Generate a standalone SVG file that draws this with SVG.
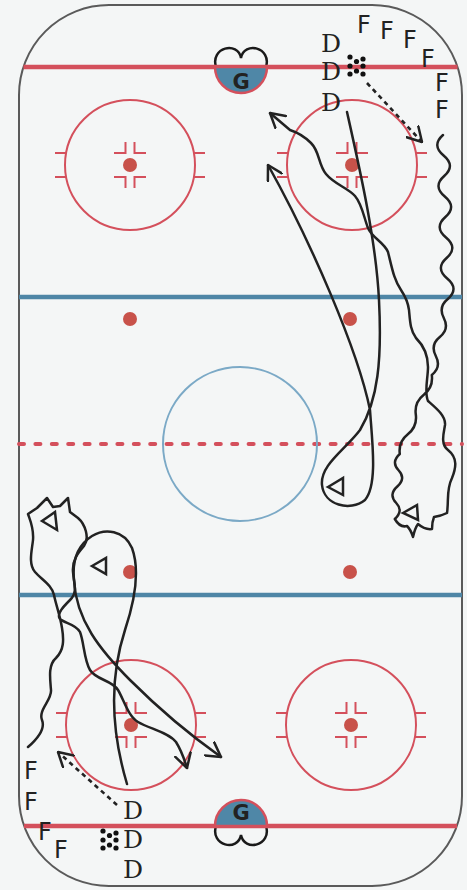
<svg xmlns="http://www.w3.org/2000/svg" xmlns:xlink="http://www.w3.org/1999/xlink" width="467" height="890" viewBox="0 0 467 890">
<style>
.red{stroke:#d4505c;fill:none}
.blue{stroke:#4e86a6;stroke-width:4.5}
.skate{fill:none;stroke:#222;stroke-width:2.5;stroke-linecap:round;stroke-linejoin:round}
.pass{fill:none;stroke:#222;stroke-width:2.6;stroke-dasharray:4.5 4}
.tri{fill:none;stroke:#222;stroke-width:2.5;stroke-linejoin:miter}
.net{fill:none;stroke:#1a1a1a;stroke-width:2.5}
.d{font-family:"DejaVu Serif","Liberation Serif",serif;font-size:25px;fill:#222}
.f{font-family:"DejaVu Sans","Liberation Sans",sans-serif;font-size:24px;fill:#222}
.g{font-family:"DejaVu Sans","Liberation Sans",sans-serif;font-size:21px;font-weight:bold;fill:#222;text-anchor:middle}
.puck{fill:#111}
</style>
<defs>
<marker id="arr" viewBox="0 0 16 18" refX="15" refY="9" markerWidth="16" markerHeight="18" markerUnits="userSpaceOnUse" orient="auto">
<path d="M1,1 L15,9 L1,17" fill="none" stroke="#222" stroke-width="2.5" stroke-linecap="round" stroke-linejoin="round"/>
</marker>
<g id="faceoff">
<circle r="65" fill="none" stroke="#d4505c" stroke-width="2"/>
<path d="M-64,-12 H-75 M-64,12 H-75 M64,-12 H75 M64,12 H75 M-4.5,-23 V-12 H-16 M4.5,-23 V-12 H16 M-4.5,23 V12 H-16 M4.5,23 V12 H16" fill="none" stroke="#d4505c" stroke-width="2"/>
<circle r="7" fill="#c8524a"/>
</g>
<g id="pk">
<circle cx="0" cy="0" r="2.6"/><circle cx="13" cy="2" r="2.6"/><circle cx="6.5" cy="4.5" r="2.6"/>
<circle cx="0" cy="9" r="2.6"/><circle cx="13" cy="9" r="2.6"/>
<circle cx="6.5" cy="14" r="2.6"/><circle cx="0" cy="17" r="2.6"/><circle cx="13" cy="17" r="2.6"/>
</g>
</defs>
<rect width="467" height="890" fill="#f4f6f6"/>
<g id="rink">
<rect x="19" y="5" width="443" height="881" rx="90" ry="90" fill="#f4f6f6" stroke="#5a5a5a" stroke-width="2"/>
<line x1="19" y1="297" x2="462" y2="297" class="blue"/>
<line x1="19" y1="595" x2="462" y2="595" class="blue"/>
<line x1="19" y1="444" x2="462" y2="444" stroke="#d4505c" stroke-width="4" stroke-dasharray="5 11.4" stroke-linecap="round"/>
<circle cx="240" cy="444" r="77" fill="none" stroke="#7ba9c6" stroke-width="2"/>
<circle cx="130" cy="319" r="7" fill="#c8524a"/>
<circle cx="350" cy="319" r="7" fill="#c8524a"/>
<circle cx="130" cy="572" r="7" fill="#c8524a"/>
<circle cx="350" cy="572" r="7" fill="#c8524a"/>
<use xlink:href="#faceoff" x="130" y="165"/>
<use xlink:href="#faceoff" x="352" y="165"/>
<use xlink:href="#faceoff" x="131" y="725"/>
<use xlink:href="#faceoff" x="351" y="725"/>
<path class="net" d="M216,67 C210,47 238,41 241,58 C244,41 272,47 266,67"/>
<path class="net" d="M216,826 C210,846 238,852 241,835 C244,852 272,846 266,826"/>
<line x1="23.5" y1="67" x2="457.5" y2="67" stroke="#d4505c" stroke-width="4.5"/>
<line x1="24" y1="826" x2="457" y2="826" stroke="#d4505c" stroke-width="4.5"/>
<path d="M215,67 A26,26 0 0 0 267,67 Z" fill="#4f87a7" stroke="#d4505c" stroke-width="2.5"/>
<path d="M215,826 A26,26 0 0 1 267,826 Z" fill="#4f87a7" stroke="#d4505c" stroke-width="2.5"/>
</g>
<g id="goalie-top"><text class="g" x="241" y="89">G</text></g>
<g id="goalie-bottom"><text class="g" x="241" y="820">G</text></g>
<g id="pucks" class="puck">
<use xlink:href="#pk" x="350" y="57"/>
<use xlink:href="#pk" x="103" y="831"/>
</g>
<g id="top-defense">
<text class="d" x="321" y="52">D</text>
<text class="d" x="321" y="80">D</text>
<text class="d" x="321" y="111">D</text>
</g>
<g id="top-forwards">
<text class="f" x="357" y="33">F</text>
<text class="f" x="380" y="39">F</text>
<text class="f" x="403" y="48">F</text>
<text class="f" x="421" y="67">F</text>
<text class="f" x="435" y="91">F</text>
<text class="f" x="435" y="118">F</text>
</g>
<g id="bottom-defense">
<text class="d" x="123" y="819">D</text>
<text class="d" x="123" y="848">D</text>
<text class="d" x="123" y="878">D</text>
</g>
<g id="bottom-forwards">
<text class="f" x="24" y="779">F</text>
<text class="f" x="24" y="810">F</text>
<text class="f" x="38" y="840">F</text>
<text class="f" x="54" y="858">F</text>
</g>
<g id="connectors">
<path class="pass" d="M367,83 L422,142" marker-end="url(#arr)"/>
<path class="pass" d="M117,805 L58,752" marker-end="url(#arr)"/>
<path class="skate" marker-end="url(#arr)" d="M347,112 C360,170 376,240 379,300 C382,360 378,400 360,430 C345,450 320,465 322,485 C324,505 350,512 365,500 C378,485 372,440 370,410 C358,350 310,240 268,165"/>
<path class="tri" d="M328,487 L343,478 L343,495 Z"/>
<path class="skate" marker-end="url(#arr)" d="M443,135 q-11.7,10.25 0.6,20.5 t0.6,20.5 t0.6,20.5 t0.6,20.5 t0.6,20.5 t0.6,20.5 t0.6,20.5 t0.6,20.5 q-9.8,7.9 -4,19 t-4,19 t-4,19 t-4,19 q1.6,12.2 -8,19.75 t-8,19.75 t-8,19.75 t-8,19.75 q-9,8 -1.25,16.25 t-1.25,16.25 t-1.25,16.25 t-1.25,16.25 Q400,528 407,526 Q411,530 413,537 Q415,528 418,524 Q425,530 432,529 Q432,522 434,517 Q441,516 447,513 C449,500 446,490 452,478 C456,468 458,458 448,450 C440,444 444,432 445,425 C446,416 436,408 428,401 C424,392 428,378 428,367 C428,356 424,346 416,338 C410,330 410,320 409,310 C408,302 405,296 401,290 C394,280 392,268 388,252 C384,242 372,238 368,228 C364,218 362,204 355,196 C348,188 334,184 326,174 C318,164 320,152 311,143 C304,136 296,132 290,130 L270,113"/>
<path class="tri" d="M403,513 L417,505 L418,520 Z"/>
<path class="skate" marker-end="url(#arr)" d="M127,784 C108,720 112,670 125,630 C135,600 140,570 132,548 C124,530 105,528 92,536 C78,545 72,560 74,580 C76,620 100,650 130,680 C160,710 190,735 221,757"/>
<path class="tri" d="M92,566 L106,558 L106,574 Z"/>
<path class="skate" marker-end="url(#arr)" d="M28,747 C36,740 46,730 42,720 C38,710 52,700 51,690 C50,678 48,665 56,658 C64,650 64,640 62,628 C60,615 56,605 54,595 C52,585 42,580 35,572 C28,564 32,550 33,540 C34,528 30,520 28,514 L37,508 L47,498 L53,507 L60,506 L68,498 L70,512 L78,518 C85,524 90,538 84,546 C78,553 72,560 73,572 C74,584 78,592 70,600 C64,606 56,614 60,619 C64,623 76,624 80,632 C84,642 84,660 90,670 C96,680 112,680 118,690 C124,700 128,716 138,722 C150,729 168,732 176,742 C181,750 184,758 187,768"/>
<path class="tri" d="M42,521 L55,512 L57,530 Z"/>
</g>
</svg>
